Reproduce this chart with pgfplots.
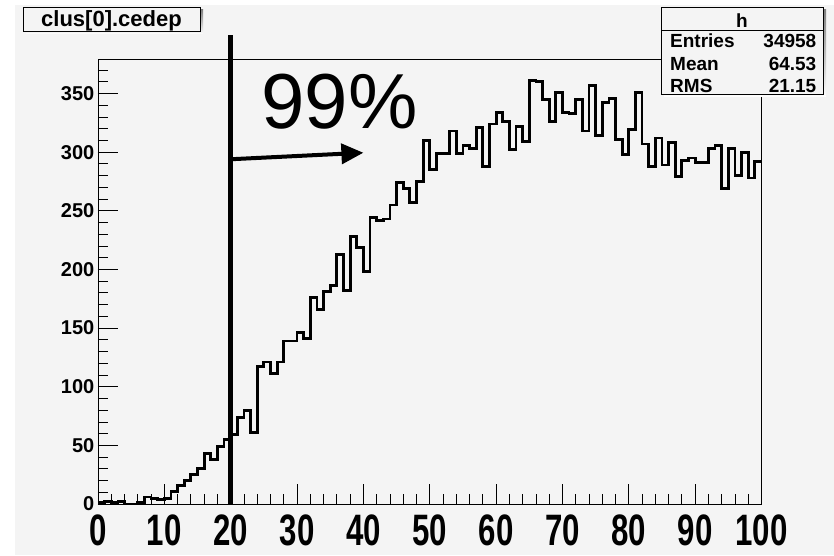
\documentclass[border=0pt]{standalone}
\usepackage{fontspec}
\setmainfont{Liberation Sans}
\newfontfamily\condsans{Liberation Sans}[FakeStretch=0.71]
\usepackage{pgfplots}
\pgfplotsset{compat=1.18}
\usetikzlibrary{arrows.meta}
\definecolor{padgray}{RGB}{244,244,244}
\definecolor{shade}{RGB}{40,40,40}

\pgfplotstableread{
x y
0 1
1 2
2 1
3 2
4 0
5 0
6 1
7 6
8 5
9 4
10 5
11 11
12 16
13 20
14 25
15 30
16 43
17 38
18 49
19 55
20 59
21 74
22 80
23 61
24 117
25 121
26 111
27 121
28 139
29 139
30 146
31 141
32 176
33 166
34 181
35 186
36 213
37 182
38 228
39 219
40 198
41 244
42 242
43 243
44 255
45 274
46 269
47 257
48 275
49 310
50 285
51 299
52 299
53 318
54 299
55 306
56 303
57 321
58 288
59 324
60 334
61 326
62 302
63 322
64 309
65 361
66 360
67 345
68 326
69 351
70 334
71 333
72 345
73 318
74 357
75 314
76 342
77 346
78 311
79 298
80 319
81 351
82 307
83 288
84 312
85 289
86 308
87 279
88 293
89 295
90 291
91 291
92 303
93 306
94 269
95 303
96 280
97 300
98 278
99 292
100 292
}\cedep

\begin{document}
\begin{tikzpicture}
% canvas
\fill[white] (-98pt,-51pt) rectangle (736pt,504pt);
\fill[padgray] (-83pt,-51pt) rectangle (736pt,499pt);

\begin{axis}[
  at={(0pt,0pt)}, anchor=south west,
  scale only axis, width=663.5pt, height=444.5pt,
  xmin=0, xmax=100, ymin=0, ymax=379,
  clip=false,
  axis background/.style={fill=padgray},
  axis line style={line width=0.8pt, black},
  xtick={0,10,...,100}, ytick={0,50,...,350},
  minor xtick={0,2,...,100}, minor ytick={0,10,...,370},
  xtick pos=bottom, ytick pos=left,
  tick align=inside,
  major tick length=20pt, minor tick length=10pt,
  tick style={black, line width=0.8pt},
  /pgf/number format/assume math mode=true,
  yticklabel style={font=\bfseries\fontsize{20}{20}\selectfont, inner xsep=3.5pt, inner ysep=0pt},
  xticklabel style={font=\condsans\bfseries\fontsize{44}{44}\selectfont, inner sep=1pt, yshift=-10pt},
]
\addplot[const plot, black, line width=2.8pt] table[x=x, y=y] {\cedep};

% cut position
\draw[black, line width=5pt] (axis cs:20,0) -- (axis cs:20,400);
\draw[black, line width=4pt, -{Triangle[length=22pt, width=20pt]}]
  (axis cs:20.2,294) -- (axis cs:40,299.5);
\node[anchor=base west, inner sep=0pt, font=\fontsize{78}{78}\selectfont]
  at (axis cs:24.6,320) {99\%};
\end{axis}

% title pave
\fill[shade] (-72pt,470pt) rectangle (105pt,494pt);
\filldraw[fill=padgray, draw=black, line width=0.8pt] (-75pt,473pt) rectangle (102pt,497pt);
\node[anchor=base, inner sep=0pt, font=\bfseries\fontsize{22}{22}\selectfont]
  at (13.5pt,477.5pt) {clus[0].cedep};

% statistics box
\fill[shade] (566pt,407pt) rectangle (728pt,494pt);
\filldraw[fill=padgray, draw=black, line width=0.8pt] (563pt,410pt) rectangle (725pt,497pt);
\draw[black, line width=0.8pt] (563pt,474pt) -- (725pt,474pt);
\begin{scope}[every node/.style={inner sep=0pt, font=\bfseries\fontsize{19}{19}\selectfont}]
\node[anchor=base] at (644pt,476.5pt) {h};
\node[anchor=base west] at (572pt,456pt) {Entries};
\node[anchor=base east] at (718.5pt,456pt) {34958};
\node[anchor=base west] at (572pt,433.5pt) {Mean};
\node[anchor=base east] at (718.5pt,433.5pt) {64.53};
\node[anchor=base west] at (572pt,411.5pt) {RMS};
\node[anchor=base east] at (718.5pt,411.5pt) {21.15};
\end{scope}

\pgfresetboundingbox
\path (-98pt,-51pt) rectangle (736pt,504pt);
\end{tikzpicture}
\end{document}
